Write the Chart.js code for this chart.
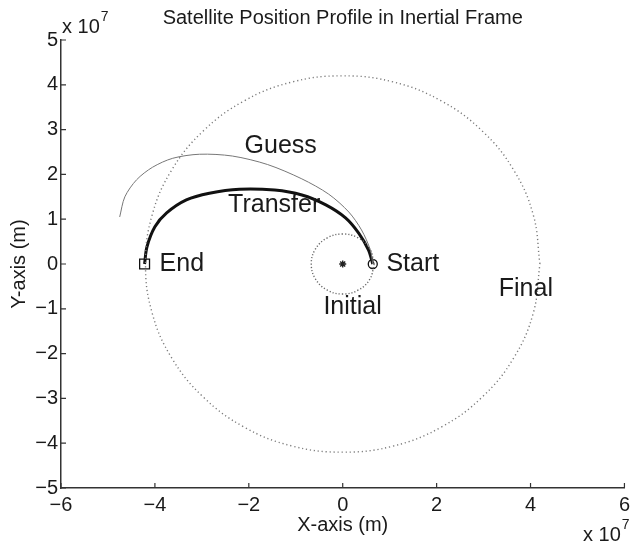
<!DOCTYPE html>
<html>
<head>
<meta charset="utf-8">
<script src="https://cdn.jsdelivr.net/npm/chart.js@4.4.0/dist/chart.umd.min.js"></script>
<style>
  html, body { margin: 0; padding: 0; background: #fff; }
  #wrap { width: 635px; height: 546px; }
</style>
</head>
<body>
<div id="wrap"><canvas id="orbitChart" width="635" height="546"></canvas></div>
<script>
// all positions in units of 1e7 m
const finalX = [4.2, 4.06, 3.64, 2.97, 2.10, 1.09, 0, -1.09, -2.10, -2.97, -3.64, -4.06, -4.2, -4.06, -3.64, -2.97, -2.10, -1.09, 0, 1.09, 2.10, 2.97, 3.64, 4.06, 4.2];
const finalY = [0, 1.09, 2.10, 2.97, 3.64, 4.06, 4.2, 4.06, 3.64, 2.97, 2.10, 1.09, 0, -1.09, -2.10, -2.97, -3.64, -4.06, -4.2, -4.06, -3.64, -2.97, -2.10, -1.09, 0];

const initX = [0.67, 0.58, 0.335, 0, -0.335, -0.58, -0.67, -0.58, -0.335, 0, 0.335, 0.58, 0.67];
const initY = [0, 0.335, 0.58, 0.67, 0.58, 0.335, 0, -0.335, -0.58, -0.67, -0.58, -0.335, 0];

const guessX = [0.64, 0.59, 0.40, 0.13, -0.30, -0.87, -1.60, -2.35, -3.05, -3.62, -4.05, -4.39, -4.64, -4.75];
const guessY = [0, 0.31, 0.76, 1.16, 1.56, 1.90, 2.22, 2.41, 2.45, 2.36, 2.16, 1.88, 1.50, 1.05];

const transferX = [0.64, 0.55, 0.34, 0.06, -0.36, -0.87, -1.45, -2.20, -2.84, -3.33, -3.75, -4.00, -4.17, -4.22];
const transferY = [0, 0.31, 0.69, 1.03, 1.32, 1.54, 1.65, 1.67, 1.58, 1.43, 1.14, 0.83, 0.38, 0];

const startPt = [0.64, 0];
const endPt = [-4.22, 0];
const centerPt = [0, 0];

const xTicks = [-6, -4, -2, 0, 2, 4, 6];
const yTicks = [-5, -4, -3, -2, -1, 0, 1, 2, 3, 4, 5];

// curve labels: [text, x, y, align]
const curveLabels = [
  ['Guess', -1.32, 2.63, 'center'],
  ['Transfer', -1.46, 1.32, 'center'],
  ['End', -3.9, 0, 'left'],
  ['Start', 0.93, 0, 'left'],
  ['Initial', 0.21, -0.97, 'center'],
  ['Final', 3.9, -0.57, 'center']
];

const FONT = '"Liberation Sans", Arial, Helvetica, sans-serif';

function pts(xs, ys) {
  return xs.map((x, i) => ({ x: x, y: ys[i] }));
}

function minus(v) {
  return v < 0 ? '\u2212' + Math.abs(v) : String(v);
}

const textPlugin = {
  id: 'matlabText',
  afterDraw(chart) {
    const c = chart.ctx;
    const xs = chart.scales.x;
    const ys = chart.scales.y;
    const area = chart.chartArea;
    c.save();

    // inward tick marks
    c.strokeStyle = '#333';
    c.lineWidth = 1.2;
    c.beginPath();
    xTicks.forEach(t => {
      const px = xs.getPixelForValue(t);
      c.moveTo(px, area.bottom);
      c.lineTo(px, area.bottom - 5);
    });
    yTicks.forEach(t => {
      const py = ys.getPixelForValue(t);
      c.moveTo(area.left, py);
      c.lineTo(area.left + 5, py);
    });
    c.stroke();

    c.fillStyle = '#1a1a1a';

    // title
    c.font = '20px ' + FONT;
    c.textAlign = 'center';
    c.textBaseline = 'alphabetic';
    c.fillText('Satellite Position Profile in Inertial Frame', (area.left + area.right) / 2, 24);

    // axis titles
    c.fillText('X-axis (m)', xs.getPixelForValue(0), 531);
    c.save();
    c.translate(25, ys.getPixelForValue(0));
    c.rotate(-Math.PI / 2);
    c.fillText('Y-axis (m)', 0, 0);
    c.restore();

    // exponent labels
    c.textAlign = 'left';
    c.font = '20px ' + FONT;
    c.fillText('x 10', 62, 33);
    let w = c.measureText('x 10').width;
    c.font = '14px ' + FONT;
    c.fillText('7', 62 + w + 1, 21);
    c.font = '20px ' + FONT;
    c.fillText('x 10', 583, 541);
    w = c.measureText('x 10').width;
    c.font = '14px ' + FONT;
    c.fillText('7', 583 + w + 1, 529);

    // curve labels
    c.font = '25px ' + FONT;
    c.textBaseline = 'middle';
    curveLabels.forEach(l => {
      c.textAlign = l[3];
      c.fillText(l[0], xs.getPixelForValue(l[1]), ys.getPixelForValue(l[2]));
    });
    c.restore();
  }
};

const ctx = document.getElementById('orbitChart').getContext('2d');
new Chart(ctx, {
  type: 'scatter',
  data: {
    datasets: [
      {
        data: pts(finalX, finalY),
        showLine: true, tension: 0.4, pointRadius: 0,
        borderColor: '#7a7a7a', borderWidth: 1.4, borderDash: [1.2, 2.8]
      },
      {
        data: pts(initX, initY),
        showLine: true, tension: 0.4, pointRadius: 0,
        borderColor: '#666', borderWidth: 1.4, borderDash: [1.2, 2]
      },
      {
        data: pts(guessX, guessY),
        showLine: true, tension: 0.3, pointRadius: 0,
        borderColor: '#777', borderWidth: 1
      },
      {
        data: pts(transferX, transferY),
        showLine: true, tension: 0.3, pointRadius: 0,
        borderColor: '#111', borderWidth: 3
      },
      {
        data: [{ x: startPt[0], y: startPt[1] }],
        pointStyle: 'circle', pointRadius: 4.5,
        borderColor: '#111', backgroundColor: '#fff', borderWidth: 1.3
      },
      {
        data: [{ x: endPt[0], y: endPt[1] }],
        pointStyle: 'rect', pointRadius: 7,
        borderColor: '#111', backgroundColor: '#fff', borderWidth: 1.3
      },
      {
        data: [{ x: centerPt[0], y: centerPt[1] }],
        pointStyle: 'star', pointRadius: 3.5,
        borderColor: '#222', borderWidth: 1.4
      }
    ]
  },
  options: {
    responsive: false,
    animation: false,
    layout: { padding: { top: 40, right: 8, left: 0, bottom: 0 } },
    plugins: {
      legend: { display: false },
      tooltip: { enabled: false }
    },
    scales: {
      x: {
        type: 'linear', min: -6, max: 6,
        afterBuildTicks(s) { s.ticks = xTicks.map(v => ({ value: v })); },
        afterFit(s) { s.height = 58; },
        ticks: {
          callback: v => minus(v),
          font: { family: FONT, size: 20 },
          color: '#1a1a1a', padding: 5, maxRotation: 0, autoSkip: false
        },
        grid: { display: false, drawTicks: false },
        border: { display: true, color: '#333', width: 1.5 }
      },
      y: {
        type: 'linear', min: -5, max: 5,
        afterBuildTicks(s) { s.ticks = yTicks.map(v => ({ value: v })); },
        afterFit(s) { s.width = 61; },
        ticks: {
          callback: v => minus(v),
          font: { family: FONT, size: 20 },
          color: '#1a1a1a', padding: 3, autoSkip: false
        },
        grid: { display: false, drawTicks: false },
        border: { display: true, color: '#333', width: 1.5 }
      }
    }
  },
  plugins: [textPlugin]
});
</script>
</body>
</html>
